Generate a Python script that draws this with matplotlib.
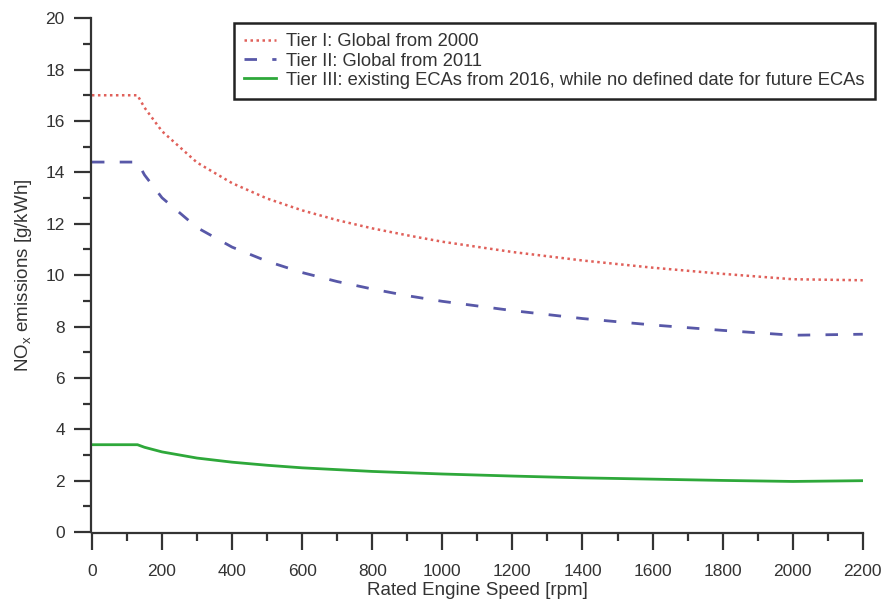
import matplotlib
matplotlib.use('Agg')
import matplotlib.pyplot as plt
from matplotlib.ticker import MultipleLocator

plt.rcParams['font.family'] = ['Liberation Sans', 'DejaVu Sans']

# Rated engine speed [rpm]
speed = [0, 130, 150, 200, 300, 400, 500, 600, 700, 800, 900, 1000,
         1200, 1400, 1600, 1800, 2000, 2200]

# NOx limits [g/kWh]
tier1 = [17.0, 17.0, 16.52, 15.60, 14.38, 13.58, 12.98, 12.52, 12.14, 11.82,
         11.55, 11.30, 10.90, 10.57, 10.29, 10.05, 9.84, 9.8]
tier2 = [14.4, 14.4, 13.90, 13.01, 11.85, 11.09, 10.54, 10.10, 9.75, 9.46,
         9.20, 8.98, 8.62, 8.31, 8.06, 7.85, 7.66, 7.7]
tier3 = [3.4, 3.4, 3.30, 3.12, 2.88, 2.72, 2.60, 2.50, 2.43, 2.36,
         2.31, 2.26, 2.18, 2.11, 2.06, 2.01, 1.97, 2.0]

labels = ['Tier I: Global from 2000',
          'Tier II: Global from 2011',
          'Tier III: existing ECAs from 2016, while no defined date for future ECAs']

fig = plt.figure(figsize=(8.84, 6.06), dpi=100)
ax = fig.add_axes([0.104, 0.122, 0.872, 0.848])

ax.plot(speed, tier1, color='#e0605a', linewidth=1.8, linestyle=(0, (1, 1.4)), label=labels[0])
ax.plot(speed, tier2, color='#5858a8', linewidth=2.0, linestyle=(0, (4.5, 5.5)), label=labels[1])
ax.plot(speed, tier3, color='#2ea83a', linewidth=2.0, label=labels[2])

ax.set_xlim(0, 2200)
ax.set_ylim(0, 20)
ax.xaxis.set_major_locator(MultipleLocator(200))
ax.xaxis.set_minor_locator(MultipleLocator(100))
ax.yaxis.set_major_locator(MultipleLocator(2))
ax.yaxis.set_minor_locator(MultipleLocator(1))

for side in ['top', 'right']:
    ax.spines[side].set_visible(False)
for side in ['left', 'bottom']:
    ax.spines[side].set_linewidth(1.6)
    ax.spines[side].set_color('#333333')
    ax.spines[side].set_position(('outward', 1))

ax.tick_params(which='major', length=12, width=1.6, color='#333333',
               labelsize=12.5, labelcolor='#333333')
ax.tick_params(which='minor', length=6, width=1.6, color='#333333')
ax.tick_params(axis='x', which='major', pad=10)
ax.tick_params(axis='y', which='major', pad=6.5)

ax.set_xlabel('Rated Engine Speed [rpm]', fontsize=13.5, color='#333333', labelpad=2)
ax.set_ylabel('$\\mathregular{NO_x}$ emissions [g/kWh]', fontsize=13.5,
              color='#333333', labelpad=8)

leg = ax.legend(loc='upper right', bbox_to_anchor=(1.0156, 0.99), fontsize=13.2,
                fancybox=False, edgecolor='#222222', framealpha=1,
                handlelength=1.75, handletextpad=0.55, labelspacing=0.12,
                borderpad=0.55, borderaxespad=0)
leg.get_frame().set_linewidth(1.8)
for t in leg.get_texts():
    t.set_color('#333333')

fig.savefig('out.png', dpi=100)
